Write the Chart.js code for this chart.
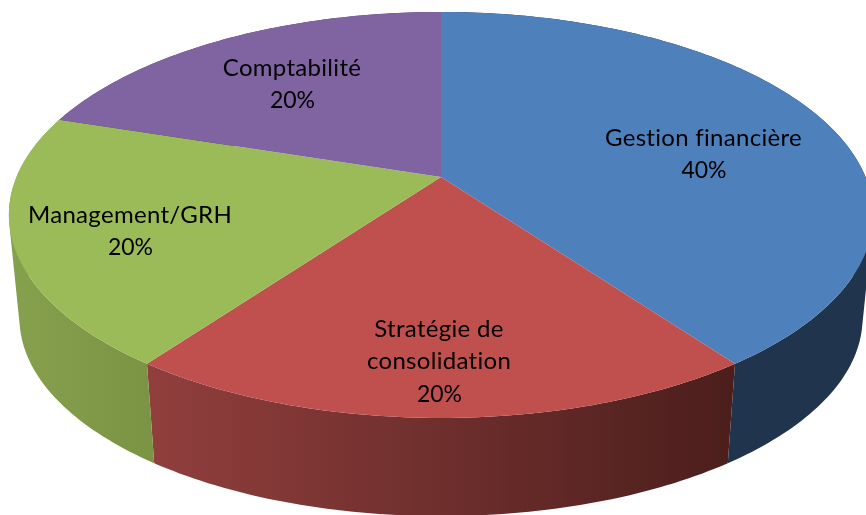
<!DOCTYPE html>
<html>
<head>
<meta charset="utf-8">
<title>Pie</title>
<style>
  html, body { margin: 0; padding: 0; background: #fff; overflow: hidden; }
  canvas { display: block; }
</style>
<script src="https://cdn.jsdelivr.net/npm/chart.js@4"></script>
</head>
<body>
<canvas id="myChart" width="866" height="515"></canvas>
<script>
const categories = ['Gestion financière', 'Stratégie de consolidation', 'Management/GRH', 'Comptabilité'];
const shares = [40, 20, 20, 20];
const labelLines = [['Gestion financière'], ['Stratégie de', 'consolidation'], ['Management/GRH'], ['Comptabilité']];

const topColors = ['#4e80bc', '#bf504d', '#9bbb59', '#8064a2'];
const wallColors = [['#20344d', '#20344d'], ['#913f3d', '#4b1e1c'], ['#86a14e', '#7a9344'], ['#4c3c61', '#4c3c61']];

// label centres, first line, in pixels
const labelAnchors = [[703.5, 138], [439, 329], [130, 215], [292, 68]];
const lineGap = 32.7;

// perspective of the disc: circle -> screen
const apexX = 441;
const apexY = 177;
const scaleU = 424.5;
const scaleV = 195.9;
const tilt = -0.187;

// the lower rim is the upper rim shrunk towards a vanishing point
const vanishY = 4423;
const rimShrink = 0.9755;

function project(angle) {
  const u = Math.cos(angle);
  const v = Math.sin(angle);
  const w = 1 + tilt * v;
  return { x: apexX + scaleU * u / w, y: apexY + scaleV * v / w };
}

function lower(p) {
  return {
    x: apexX + (p.x - apexX) * rimShrink,
    y: vanishY + (p.y - vanishY) * rimShrink,
  };
}

const STEP = Math.PI / 180;

function rimPoints(arc) {
  const n = Math.max(2, Math.ceil((arc.endAngle - arc.startAngle) / STEP));
  const pts = [];
  for (let i = 0; i <= n; i++) {
    pts.push(project(arc.startAngle + (arc.endAngle - arc.startAngle) * i / n));
  }
  return pts;
}

function signedArea(quad) {
  let area = 0;
  quad.forEach((p, i) => {
    const q = quad[(i + 1) % quad.length];
    area += p.x * q.y - q.x * p.y;
  });
  return area;
}

function drawWall(ctx, arc, index) {
  const pts = rimPoints(arc);
  const low = pts.map(lower);
  const xs = pts.concat(low).filter(p => p.y > apexY).map(p => p.x);
  const grad = ctx.createLinearGradient(Math.min(...xs), 0, Math.max(...xs), 0);
  grad.addColorStop(0, wallColors[index][0]);
  grad.addColorStop(1, wallColors[index][1]);
  ctx.fillStyle = grad;
  // one path, every quad wound the same way, so there are no seams
  ctx.beginPath();
  for (let i = 0; i < pts.length - 1; i++) {
    const quad = [pts[i], pts[i + 1], low[i + 1], low[i]];
    if (signedArea(quad) < 0) quad.reverse();
    ctx.moveTo(quad[0].x, quad[0].y);
    ctx.lineTo(quad[1].x, quad[1].y);
    ctx.lineTo(quad[2].x, quad[2].y);
    ctx.lineTo(quad[3].x, quad[3].y);
    ctx.closePath();
  }
  ctx.fill();
}

function drawTop(ctx, arc, index) {
  ctx.beginPath();
  ctx.moveTo(apexX, apexY);
  rimPoints(arc).forEach(p => ctx.lineTo(p.x, p.y));
  ctx.closePath();
  ctx.fillStyle = topColors[index];
  ctx.fill();
}

const pie3d = {
  id: 'pie3d',
  beforeDatasetsDraw(chart) {
    const ctx = chart.ctx;
    const arcs = chart.getDatasetMeta(0).data;
    ctx.save();
    arcs.forEach((arc, i) => drawWall(ctx, arc, i));
    arcs.forEach((arc, i) => drawTop(ctx, arc, i));
    ctx.restore();
    return false;
  },
  afterDraw(chart) {
    const ctx = chart.ctx;
    ctx.save();
    ctx.fillStyle = '#000';
    ctx.textAlign = 'center';
    ctx.textBaseline = 'middle';
    labelLines.forEach((lines, i) => {
      ctx.font = '24px Lato';
      ctx.letterSpacing = '0.3px';
      lines.forEach((row, r) => {
        ctx.fillText(row, labelAnchors[i][0], labelAnchors[i][1] + r * lineGap);
      });
      ctx.font = '23px Lato';
      ctx.letterSpacing = '0px';
      ctx.fillText(shares[i] + '%', labelAnchors[i][0] + 0.5, labelAnchors[i][1] + lines.length * lineGap);
    });
    ctx.restore();
  },
};

const chart = new Chart(document.querySelector('#myChart'), {
  type: 'pie',
  data: {
    labels: categories,
    datasets: [{ data: shares, backgroundColor: topColors, borderWidth: 0 }],
  },
  options: {
    responsive: false,
    animation: false,
    plugins: {
      legend: { display: false },
      tooltip: { enabled: false },
    },
  },
  plugins: [pie3d],
});
</script>
</body>
</html>
